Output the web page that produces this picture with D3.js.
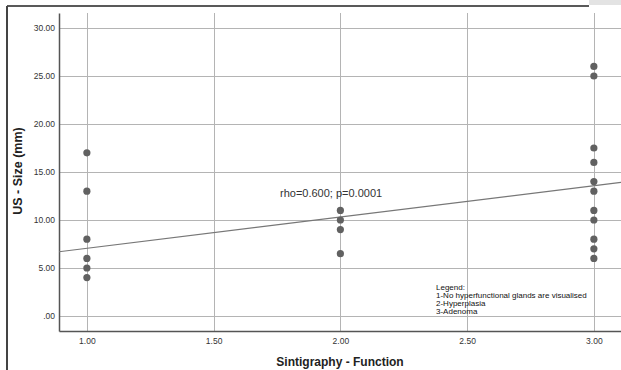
<!DOCTYPE html>
<html>
<head>
<meta charset="utf-8">
<script src="https://cdn.jsdelivr.net/npm/d3@7"></script>
<style>
  body { margin: 0; background: #fff; }
  svg { display: block; font-family: Arial, "Liberation Sans", sans-serif; }
</style>
</head>
<body>
<svg id="chart" width="621" height="370"></svg>
<script>
// values
var group1 = [17, 13, 8, 6, 5, 4];
var group2 = [11, 10, 9, 6.5];
var group3 = [26, 25, 17.5, 16, 14, 13, 11, 10, 8, 7, 6];
var groups = [1, 2, 3];
var xTicks = [1.0, 1.5, 2.0, 2.5, 3.0];
var yTicks = [0, 5, 10, 15, 20, 25, 30];
var fitLine = [3.79, 3.26]; // intercept, slope
var legendLines = ["Legend:", "1-No hyperfunctional glands are visualised", "2-Hyperplasia", "3-Adenoma"];

var svg = d3.select("#chart");
var margin = {top: 13, right: 0, bottom: 39, left: 59};
var width = 621 - margin.left - margin.right;
var height = 370 - margin.top - margin.bottom;

// frame around the figure
svg.append("rect").attr("x", 589).attr("y", 0).attr("width", 32).attr("height", 5).attr("fill", "#e3e3e3");
svg.append("line").attr("x1", 7).attr("x2", 589).attr("y1", 6).attr("y2", 6)
  .attr("stroke", "#222").attr("stroke-width", 1.5);
svg.append("line").attr("x1", 7).attr("x2", 7).attr("y1", 6).attr("y2", 370)
  .attr("stroke", "#444").attr("stroke-width", 2);

var g = svg.append("g")
  .attr("transform", "translate(" + margin.left + "," + margin.top + ")");

var x = d3.scaleLinear().domain([0.89, 3.107]).range([0, width]);
var y = d3.scaleLinear().domain([-1.56, 31.56]).range([height, 0]);

// grid
g.append("g").selectAll("line").data(yTicks).enter().append("line")
  .attr("x1", 0).attr("x2", width)
  .attr("y1", function(d) { return Math.round(y(d)) + 0.5; })
  .attr("y2", function(d) { return Math.round(y(d)) + 0.5; })
  .attr("stroke", "#b4b4b4").attr("stroke-width", 1);
g.append("g").selectAll("line").data(xTicks).enter().append("line")
  .attr("y1", 0).attr("y2", height)
  .attr("x1", function(d) { return Math.round(x(d)) + 0.5; })
  .attr("x2", function(d) { return Math.round(x(d)) + 0.5; })
  .attr("stroke", "#b4b4b4").attr("stroke-width", 1);

// axes
var yAxis = g.append("g")
  .call(d3.axisLeft(y).tickValues(yTicks).tickSize(0).tickPadding(4)
    .tickFormat(function(d) { return d === 0 ? ".00" : d3.format(".2f")(d); }));
var xAxis = g.append("g")
  .attr("transform", "translate(0," + height + ")")
  .call(d3.axisBottom(x).tickValues(xTicks).tickSize(0).tickPadding(7)
    .tickFormat(d3.format(".2f")));
[xAxis, yAxis].forEach(function(a) {
  a.select(".domain").attr("stroke", "#555").attr("stroke-width", 1.5);
  a.selectAll("text").attr("font-size", "8.5px").attr("fill", "#333")
    .attr("font-family", "Arial, 'Liberation Sans', sans-serif");
});

// fit line
g.append("line")
  .attr("x1", 0).attr("x2", width)
  .attr("y1", y(fitLine[0] + fitLine[1] * x.domain()[0]))
  .attr("y2", y(fitLine[0] + fitLine[1] * x.domain()[1]))
  .attr("stroke", "#777").attr("stroke-width", 1.2);

// points
var pts = [];
[group1, group2, group3].forEach(function(vals, i) {
  vals.forEach(function(v) { pts.push({x: groups[i], y: v}); });
});
g.append("g").selectAll("circle").data(pts).enter().append("circle")
  .attr("cx", function(d) { return x(d.x); })
  .attr("cy", function(d) { return y(d.y); })
  .attr("r", 3.6)
  .attr("fill", "#616161");

// annotation
svg.append("text").attr("x", 280).attr("y", 197)
  .attr("font-size", "11px").attr("fill", "#333")
  .text("rho=0.600; p=0.0001");

// legend
svg.append("g").selectAll("text").data(legendLines).enter().append("text")
  .attr("x", 436)
  .attr("y", function(d, i) { return 289.5 + i * 8.3; })
  .attr("font-size", "8px").attr("fill", "#111")
  .text(function(d) { return d; });

// axis titles
svg.append("text")
  .attr("transform", "translate(22,171) rotate(-90)")
  .attr("text-anchor", "middle").attr("font-size", "12.5px").attr("font-weight", "bold").attr("fill", "#222")
  .text("US - Size (mm)");
svg.append("text")
  .attr("x", 340).attr("y", 366)
  .attr("text-anchor", "middle").attr("font-size", "12px").attr("font-weight", "bold").attr("fill", "#222")
  .text("Sintigraphy - Function");
</script>
</body>
</html>
